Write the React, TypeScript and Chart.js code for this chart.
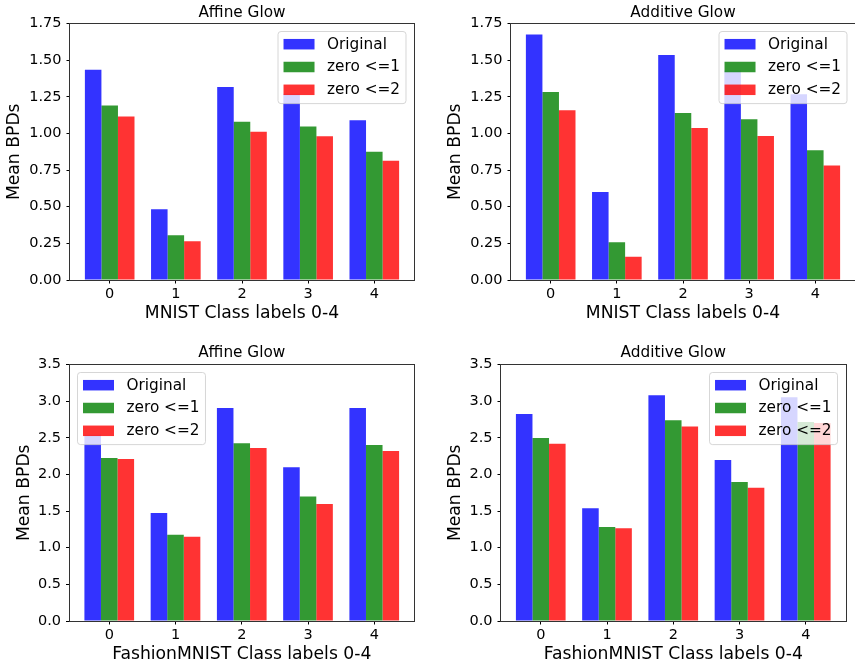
import React, { useEffect, useRef } from "react";
import { Chart, registerables } from "chart.js";

Chart.register(...registerables);

// ---------- data ----------
const categories = ["0", "1", "2", "3", "4"];
const seriesNames = ["Original", "zero <=1", "zero <=2"];
const seriesColors = ["rgba(0,0,255,0.8)", "rgba(0,128,0,0.8)", "rgba(255,0,0,0.8)"];

const mnistAffineOriginal = [1.435, 0.482, 1.316, 1.27, 1.09];
const mnistAffineZero1 = [1.19, 0.305, 1.08, 1.048, 0.875];
const mnistAffineZero2 = [1.115, 0.265, 1.012, 0.98, 0.813];

const mnistAdditiveOriginal = [1.675, 0.6, 1.535, 1.43, 1.268];
const mnistAdditiveZero1 = [1.283, 0.258, 1.14, 1.097, 0.886];
const mnistAdditiveZero2 = [1.158, 0.158, 1.037, 0.983, 0.781];

const fashionAffineOriginal = [2.54, 1.472, 2.908, 2.097, 2.908];
const fashionAffineZero1 = [2.224, 1.176, 2.425, 1.7, 2.4];
const fashionAffineZero2 = [2.21, 1.149, 2.36, 1.595, 2.32];

const fashionAdditiveOriginal = [2.826, 1.54, 3.081, 2.197, 3.054];
const fashionAdditiveZero1 = [2.498, 1.281, 2.739, 1.896, 2.716];
const fashionAdditiveZero2 = [2.42, 1.267, 2.653, 1.819, 2.703];

const mnistYTicks = [0, 0.25, 0.5, 0.75, 1.0, 1.25, 1.5, 1.75];
const fashionYTicks = [0, 0.5, 1.0, 1.5, 2.0, 2.5, 3.0, 3.5];

const mnistXLabel = "MNIST Class labels 0-4";
const fashionXLabel = "FashionMNIST Class labels 0-4";
const yLabel = "Mean BPDs";

// ---------- layout ----------
const W = 855;
const H = 662;
const FONT = "DejaVu Sans";

type Panel = {
  title: string;
  xLabel: string;
  series: number[][];
  yTicks: number[];
  decimals: number;
  area: { left: number; top: number; right: number; bottom: number };
  legendSide: "left" | "right";
  yLabelX: number;
  titleY: number;
  xLabelY: number;
};

const panels: Panel[] = [
  {
    title: "Affine Glow",
    xLabel: mnistXLabel,
    series: [mnistAffineOriginal, mnistAffineZero1, mnistAffineZero2],
    yTicks: mnistYTicks,
    decimals: 2,
    area: { left: 70, top: 23.5, right: 414, bottom: 280 },
    legendSide: "right",
    yLabelX: 15,
    titleY: 12.7,
    xLabelY: 313.3,
  },
  {
    title: "Additive Glow",
    xLabel: mnistXLabel,
    series: [mnistAdditiveOriginal, mnistAdditiveZero1, mnistAdditiveZero2],
    yTicks: mnistYTicks,
    decimals: 2,
    area: { left: 511, top: 23.5, right: 855, bottom: 280 },
    legendSide: "right",
    yLabelX: 456,
    titleY: 12.7,
    xLabelY: 313.3,
  },
  {
    title: "Affine Glow",
    xLabel: fashionXLabel,
    series: [fashionAffineOriginal, fashionAffineZero1, fashionAffineZero2],
    yTicks: fashionYTicks,
    decimals: 1,
    area: { left: 69.5, top: 364.5, right: 414, bottom: 621 },
    legendSide: "left",
    yLabelX: 24.8,
    titleY: 353.3,
    xLabelY: 654.3,
  },
  {
    title: "Additive Glow",
    xLabel: fashionXLabel,
    series: [fashionAdditiveOriginal, fashionAdditiveZero1, fashionAdditiveZero2],
    yTicks: fashionYTicks,
    decimals: 1,
    area: { left: 501, top: 364.5, right: 845.5, bottom: 621 },
    legendSide: "right",
    yLabelX: 456,
    titleY: 353.3,
    xLabelY: 654.3,
  },
];

const Y_AXIS_W = 60;
const X_AXIS_H = 30;

function makeDecor(p: Panel) {
  return {
    id: "decor",
    afterDraw(chart: any) {
      const ctx: CanvasRenderingContext2D = chart.ctx;
      const a = chart.chartArea;
      ctx.save();
      // frame
      ctx.strokeStyle = "#333";
      ctx.lineWidth = 1;
      const l = Math.round(a.left) - 0.5;
      const t = Math.round(a.top) - 0.5;
      const r = Math.round(a.right) + 0.5;
      const b = Math.round(a.bottom) + 0.5;
      ctx.strokeRect(l, t, r - l, b - t);

      // title
      ctx.fillStyle = "#000";
      ctx.textAlign = "center";
      ctx.textBaseline = "middle";
      ctx.font = `15.3px "${FONT}"`;
      ctx.fillText(p.title, (a.left + a.right) / 2, p.titleY);

      // x label
      ctx.font = `17.2px "${FONT}"`;
      ctx.fillText(p.xLabel, (a.left + a.right) / 2, p.xLabelY);

      // y label
      ctx.save();
      ctx.translate(p.yLabelX, (a.top + a.bottom) / 2);
      ctx.rotate(-Math.PI / 2);
      ctx.fillText(yLabel, 0, 0);
      ctx.restore();

      // legend
      ctx.font = `15.3px "${FONT}"`;
      let maxW = 0;
      seriesNames.forEach((n) => {
        maxW = Math.max(maxW, ctx.measureText(n).width);
      });
      const padL = 5.5;
      const patchW = 31;
      const patchH = 10.5;
      const gap = 12.5;
      const padR = 6;
      const rowH = 22.8;
      const firstRow = 12.7;
      const lastPad = 13.8;
      const boxW = padL + patchW + gap + maxW + padR;
      const boxH = firstRow + rowH * (seriesNames.length - 1) + lastPad;
      const inset = 8;
      const bx = p.legendSide === "right" ? a.right - inset - boxW : a.left + inset;
      const by = a.top + inset;
      ctx.beginPath();
      (ctx as any).roundRect(bx, by, boxW, boxH, 3);
      ctx.fillStyle = "rgba(255,255,255,0.8)";
      ctx.fill();
      ctx.strokeStyle = "rgba(204,204,204,0.8)";
      ctx.lineWidth = 1;
      ctx.stroke();
      seriesNames.forEach((n, i) => {
        const cy = by + firstRow + i * rowH;
        ctx.fillStyle = seriesColors[i];
        ctx.fillRect(bx + padL, cy - patchH / 2, patchW, patchH);
        ctx.fillStyle = "#000";
        ctx.textAlign = "left";
        ctx.textBaseline = "middle";
        ctx.fillText(n, bx + padL + patchW + gap, cy + 0.5);
      });
      ctx.restore();
    },
  };
}

function PanelChart({ p }: { p: Panel }) {
  const ref = useRef<HTMLCanvasElement | null>(null);
  useEffect(() => {
    if (!ref.current) return;
    const yMin = p.yTicks[0];
    const yMax = p.yTicks[p.yTicks.length - 1];
    const yStep = p.yTicks[1] - p.yTicks[0];
    const chart = new Chart(ref.current, {
      type: "bar",
      data: {
        datasets: p.series.map((vals, si) => ({
          label: seriesNames[si],
          data: categories.map((c, i) => ({ x: Number(c), y: vals[i] })),
          backgroundColor: seriesColors[si],
          borderWidth: 0,
          categoryPercentage: 0.75,
          barPercentage: 1,
        })),
      },
      options: {
        animation: false,
        responsive: false,
        devicePixelRatio: 1,
        layout: {
          padding: {
            left: p.area.left - Y_AXIS_W,
            top: p.area.top,
            right: W - p.area.right,
            bottom: H - p.area.bottom - X_AXIS_H,
          },
        },
        plugins: {
          legend: { display: false },
          title: { display: false },
          tooltip: { enabled: false },
        },
        scales: {
          x: {
            type: "linear",
            min: -0.6,
            max: categories.length - 0.4,
            offset: false,
            afterFit: (s: any) => {
              s.height = X_AXIS_H;
            },
            ticks: {
              stepSize: 1,
              includeBounds: false,
              autoSkip: false,
              maxRotation: 0,
              padding: 2,
              color: "#000",
              font: { family: FONT, size: 14.5 },
              callback: (v: any) => {
                const idx = Math.round(Number(v));
                return categories[idx] ?? "";
              },
            },
            grid: {
              display: true,
              offset: false,
              drawOnChartArea: false,
              drawTicks: true,
              tickLength: 3.5,
              color: "#000",
              lineWidth: 1,
            },
            border: { display: false },
          },
          y: {
            type: "linear",
            min: yMin,
            max: yMax,
            afterFit: (s: any) => {
              s.width = Y_AXIS_W;
            },
            ticks: {
              stepSize: yStep,
              padding: 5,
              color: "#000",
              font: { family: FONT, size: 14.5 },
              callback: (v: any) => Number(v).toFixed(p.decimals),
            },
            grid: {
              display: true,
              offset: false,
              drawOnChartArea: false,
              drawTicks: true,
              tickLength: 3.5,
              color: "#000",
              lineWidth: 1,
            },
            border: { display: false },
          },
        },
      } as any,
      plugins: [makeDecor(p)],
    });
    return () => chart.destroy();
  }, [p]);
  return (
    <canvas
      ref={ref}
      width={W}
      height={H}
      style={{ position: "absolute", left: 0, top: 0, width: W, height: H }}
    />
  );
}

export default function App() {
  return (
    <div
      style={{
        position: "fixed",
        left: 0,
        top: 0,
        width: W,
        height: H,
        background: "#fff",
        overflow: "hidden",
      }}
    >
      {panels.map((p, i) => (
        <PanelChart key={i} p={p} />
      ))}
    </div>
  );
}
